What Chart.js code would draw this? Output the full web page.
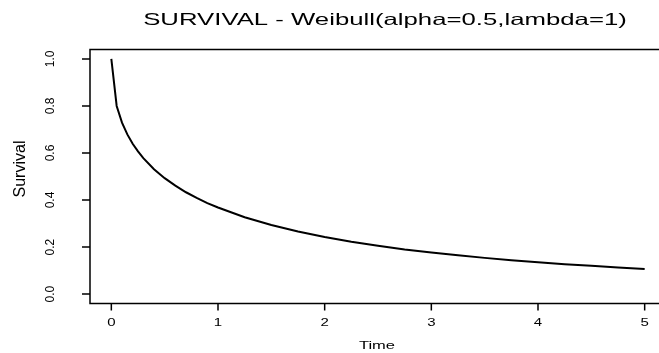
<!DOCTYPE html>
<html>
<head>
<meta charset="utf-8">
<script src="https://cdn.jsdelivr.net/npm/chart.js@4/dist/chart.umd.min.js"></script>
<style>
  html, body { margin: 0; padding: 0; background: #fff; overflow: hidden; }
  #wrap { width: 672px; height: 353px; }
</style>
</head>
<body>
<div id="wrap"><canvas id="chart" width="672" height="353"></canvas></div>
<script>
// values
let time_values = [0, 0.05, 0.1, 0.15, 0.2, 0.25, 0.3, 0.4, 0.5, 0.6, 0.7, 0.8, 0.9, 1.0,
    1.25, 1.5, 1.75, 2.0, 2.25, 2.5, 2.75, 3.0, 3.25, 3.5, 3.75, 4.0, 4.25, 4.5, 4.75, 5.0];
let survival_values = [1.000, 0.800, 0.729, 0.679, 0.639, 0.607, 0.578, 0.531, 0.493, 0.461, 0.433, 0.409, 0.387, 0.368,
    0.327, 0.294, 0.266, 0.243, 0.223, 0.206, 0.190, 0.177, 0.165, 0.154, 0.144, 0.135, 0.127, 0.120, 0.113, 0.107];
let x_ticks = [0, 1, 2, 3, 4, 5];
let x_tick_labels = ["0", "1", "2", "3", "4", "5"];
let y_ticks = [0, 0.2, 0.4, 0.6, 0.8, 1.0];
let y_tick_labels = ["0.0", "0.2", "0.4", "0.6", "0.8", "1.0"];
let main_title = "SURVIVAL - Weibull(alpha=0.5,lambda=1)";
let x_title = "Time";
let y_title = "Survival";

let points = [];
for (let i = 0; i < time_values.length; i++) {
    points.push({x: time_values[i], y: survival_values[i]});
}

const FONT = "'Liberation Sans', Arial, Helvetica, sans-serif";

// horizontal text in the picture is stretched sideways
function wideText(ctx, text, x, y, size, stretch) {
    ctx.save();
    ctx.font = size + "px " + FONT;
    ctx.translate(x, y);
    ctx.scale(stretch, 1);
    ctx.textAlign = "center";
    ctx.textBaseline = "alphabetic";
    ctx.fillText(text, 0, 0);
    ctx.restore();
}

function upText(ctx, text, x, y, size) {
    ctx.save();
    ctx.font = size + "px " + FONT;
    ctx.translate(x, y);
    ctx.rotate(-Math.PI / 2);
    ctx.textAlign = "center";
    ctx.textBaseline = "alphabetic";
    ctx.fillText(text, 0, 0);
    ctx.restore();
}

const rAxes = {
    id: "rAxes",
    afterDraw(chart) {
        let ctx = chart.ctx;
        let area = chart.chartArea;
        let xs = chart.scales.x;
        let ys = chart.scales.y;
        ctx.save();
        ctx.strokeStyle = "#000";
        ctx.fillStyle = "#000";
        ctx.lineWidth = 1.5;
        ctx.strokeRect(area.left, area.top, area.right - area.left, area.bottom - area.top);
        ctx.beginPath();
        for (let i = 0; i < x_ticks.length; i++) {
            let px = xs.getPixelForValue(x_ticks[i]);
            ctx.moveTo(px, area.bottom);
            ctx.lineTo(px, area.bottom + 7);
        }
        for (let i = 0; i < y_ticks.length; i++) {
            let py = ys.getPixelForValue(y_ticks[i]);
            ctx.moveTo(area.left, py);
            ctx.lineTo(area.left - 8, py);
        }
        ctx.stroke();
        for (let i = 0; i < x_ticks.length; i++) {
            wideText(ctx, x_tick_labels[i], xs.getPixelForValue(x_ticks[i]), 326, 10, 1.5);
        }
        for (let i = 0; i < y_ticks.length; i++) {
            upText(ctx, y_tick_labels[i], 54, ys.getPixelForValue(y_ticks[i]), 12);
        }
        wideText(ctx, x_title, 377, 349, 11, 1.5);
        upText(ctx, y_title, 25, 169, 16);
        wideText(ctx, main_title, 385, 25, 16.5, 1.56);
        ctx.restore();
    }
};

let config = {
    type: "line",
    data: {
        datasets: [{
            data: points,
            borderColor: "#000",
            borderWidth: 2,
            pointRadius: 0,
            fill: false,
            tension: 0,
        }]
    },
    options: {
        responsive: false,
        animation: false,
        devicePixelRatio: 1,
        layout: {
            padding: {left: 90, top: 49.5, right: 6, bottom: 49.5}
        },
        plugins: {
            legend: {display: false},
            tooltip: {enabled: false},
            title: {display: false},
        },
        scales: {
            x: {type: "linear", min: -0.2, max: 5.2, display: false},
            y: {type: "linear", min: -0.04, max: 1.04, display: false},
        },
    },
    plugins: [rAxes],
};

new Chart(document.getElementById("chart"), config);
</script>
</body>
</html>
